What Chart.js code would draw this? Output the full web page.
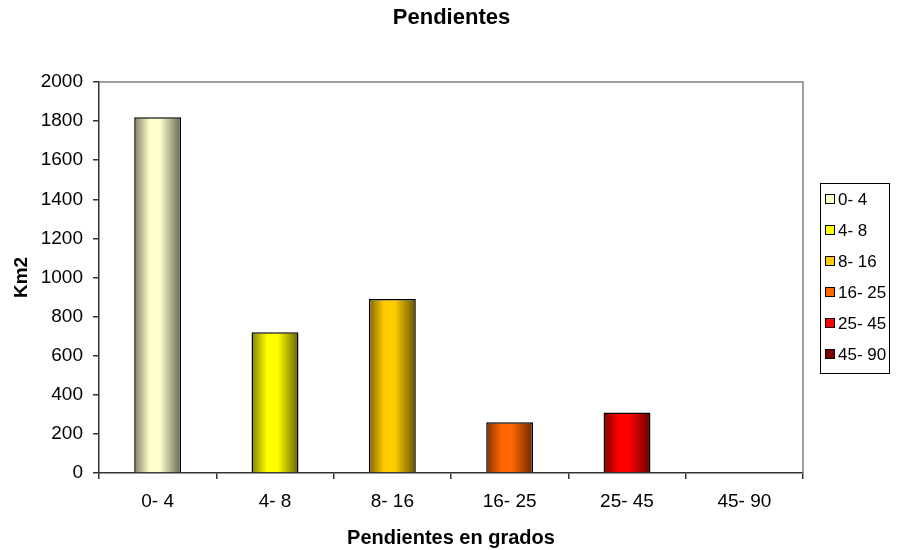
<!DOCTYPE html>
<html>
<head>
<meta charset="utf-8">
<title>Pendientes</title>
<script src="https://cdn.jsdelivr.net/npm/chart.js@4"></script>
<style>
  html, body { margin: 0; padding: 0; background: #ffffff; }
  canvas { display: block; }
</style>
</head>
<body>
<canvas id="chart" width="903" height="550"></canvas>
<script>
// Slope classes (degrees) and the area each one covers, in km2
const categories = ['0- 4', '4- 8', '8- 16', '16- 25', '25- 45', '45- 90'];
const areaKm2 = [1820, 720, 890, 260, 310, 0];
const yTickValues = [0, 200, 400, 600, 800, 1000, 1200, 1400, 1600, 1800, 2000];
const classColors = ['#FFFFCC', '#FFFF00', '#FFCC00', '#FF6600', '#FF0000', '#800000'];
const chartTitle = 'Pendientes';

const FONT = '"Liberation Sans", Arial, Helvetica, sans-serif';

function shade(hex, f) {
  const n = parseInt(hex.slice(1), 16);
  const r = Math.round(((n >> 16) & 255) * f);
  const g = Math.round(((n >> 8) & 255) * f);
  const b = Math.round((n & 255) * f);
  return 'rgb(' + r + ',' + g + ',' + b + ')';
}

// Cylinder-like horizontal shading across each bar
function barFill(c) {
  const chart = c.chart;
  const xs = chart.scales.x;
  const i = c.dataIndex;
  const base = classColors[i];
  if (!xs || !chart.chartArea) return base;
  const cx = xs.getPixelForValue(i);
  const half = (xs.width / categories.length) * 0.8 * 0.5 / 2;
  const g = chart.ctx.createLinearGradient(cx - half, 0, cx + half, 0);
  g.addColorStop(0, shade(base, 0.5));
  g.addColorStop(0.33, base);
  g.addColorStop(0.55, base);
  g.addColorStop(1, shade(base, 0.4));
  return g;
}

// Title centred on the whole canvas, grey frame on top/right of the plot
const plotFrame = {
  id: 'plotFrame',
  beforeDatasetsDraw(chart) {
    const { ctx, chartArea: a } = chart;
    ctx.save();
    ctx.strokeStyle = '#808080';
    ctx.lineWidth = 1.5;
    ctx.beginPath();
    ctx.moveTo(a.left, a.top);
    ctx.lineTo(a.right, a.top);
    ctx.lineTo(a.right, a.bottom);
    ctx.stroke();

    ctx.fillStyle = '#000000';
    ctx.font = 'bold 22px ' + FONT;
    ctx.textAlign = 'center';
    ctx.textBaseline = 'middle';
    ctx.fillText(chartTitle, chart.width / 2, 17.5);
    ctx.restore();
  }
};

// Boxed legend listing each slope class
const classLegend = {
  id: 'classLegend',
  afterDraw(chart) {
    const ctx = chart.ctx;
    const boxX = 820.5, boxY = 183.5, boxW = 69, boxH = 190;
    ctx.save();
    ctx.fillStyle = '#ffffff';
    ctx.fillRect(boxX, boxY, boxW, boxH);
    ctx.strokeStyle = '#000000';
    ctx.lineWidth = 1;
    ctx.strokeRect(boxX, boxY, boxW, boxH);
    ctx.font = '17px ' + FONT;
    ctx.textBaseline = 'middle';
    ctx.textAlign = 'left';
    categories.forEach((label, i) => {
      const y = 199 + i * 31;
      ctx.fillStyle = classColors[i];
      ctx.fillRect(825.5, y - 4.5, 9, 9);
      ctx.strokeStyle = '#000000';
      ctx.strokeRect(825.5, y - 4.5, 9, 9);
      ctx.fillStyle = '#000000';
      ctx.fillText(label, 838, y + 1);
    });
    ctx.restore();
  }
};

new Chart(document.getElementById('chart'), {
  type: 'bar',
  data: {
    labels: categories,
    datasets: [{
      data: areaKm2,
      backgroundColor: barFill,
      borderColor: '#000000',
      borderWidth: 1.5,
      categoryPercentage: 0.8,
      barPercentage: 0.5
    }]
  },
  options: {
    responsive: false,
    animation: false,
    devicePixelRatio: 1,
    layout: { padding: { left: 0, right: 100, top: 82, bottom: 0 } },
    plugins: {
      legend: { display: false },
      tooltip: { enabled: false },
      title: { display: false }
    },
    scales: {
      x: {
        grid: { offset: true, drawOnChartArea: false, drawTicks: true, tickLength: 6, color: '#333333', lineWidth: 1.5 },
        border: { color: '#333333', width: 1.5 },
        ticks: { color: '#000000', font: { family: FONT, size: 19 }, padding: 11, maxRotation: 0 },
        title: {
          display: true,
          text: 'Pendientes en grados',
          color: '#000000',
          font: { family: FONT, size: 20, weight: 'bold' },
          padding: { top: 0, bottom: 0 }
        },
        afterFit(s) { s.height = 77; }
      },
      y: {
        min: 0,
        max: 2000,
        afterBuildTicks(s) { s.ticks = yTickValues.map(v => ({ value: v })); },
        grid: { drawOnChartArea: false, drawTicks: true, tickLength: 6, color: '#333333', lineWidth: 1.5 },
        border: { color: '#333333', width: 1.5 },
        ticks: { color: '#000000', font: { family: FONT, size: 19 }, padding: 10, callback: v => String(v) },
        title: {
          display: true,
          text: 'Km2',
          color: '#000000',
          font: { family: FONT, size: 19, weight: 'bold' },
          padding: { top: 10, bottom: 0 }
        },
        afterFit(s) { s.width = 99; }
      }
    }
  },
  plugins: [plotFrame, classLegend]
});
</script>
</body>
</html>
